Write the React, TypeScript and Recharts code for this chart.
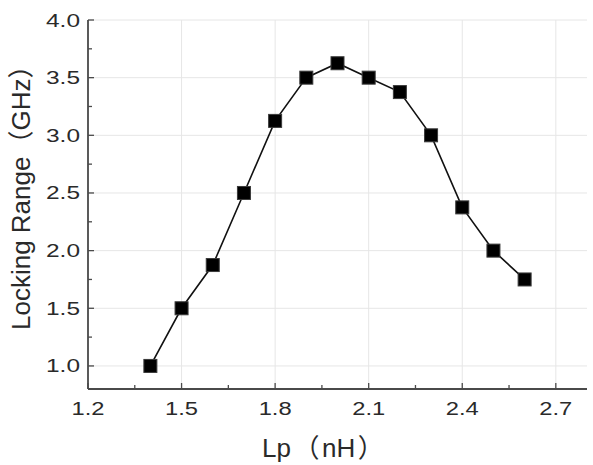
import React from 'react';
import { LineChart, Line, XAxis, YAxis, CartesianGrid } from 'recharts';

// ---- data ----
const lpNH = [1.4, 1.5, 1.6, 1.7, 1.8, 1.9, 2.0, 2.1, 2.2, 2.3, 2.4, 2.5, 2.6];
const lockingRangeGHz = [1.0, 1.5, 1.875, 2.5, 3.125, 3.5, 3.625, 3.5, 3.375, 3.0, 2.375, 2.0, 1.75];

const xMajorTicks = [1.2, 1.5, 1.8, 2.1, 2.4, 2.7];
const xMinorTicks = [1.35, 1.65, 1.95, 2.25, 2.55];
const yMajorTicks = [1.0, 1.5, 2.0, 2.5, 3.0, 3.5, 4.0];
const yMinorTicks = [1.25, 1.75, 2.25, 2.75, 3.25, 3.75];
const xDomain = [1.2, 2.8];
const yDomain = [0.8, 4.0];

const xTitleParts = ['Lp', '（', 'nH', '）'];
const yTitleParts = ['Locking Range', '（', 'GHz', '）'];

const data = lpNH.map((lp, i) => ({ lp, range: lockingRangeGHz[i] }));
const xTicksAll = [...xMajorTicks, ...xMinorTicks].sort((a, b) => a - b);
const yTicksAll = [...yMajorTicks, ...yMinorTicks].sort((a, b) => a - b);

const FONT = '"Liberation Sans", Arial, sans-serif';
const CJK = '"Noto Sans CJK SC", "Noto Sans CJK JP", sans-serif';
const FRAME = '#4a4a4a';
const TEXT = '#2a2a2a';
const GRID = '#e6e6e6';

const isMajor = (v: number, list: number[]) => list.some((m) => Math.abs(m - v) < 1e-6);
const isParen = (s: string) => s === '（' || s === '）';

const BottomTick = (p: any) => {
  const { x, y, payload } = p;
  const major = isMajor(payload.value, xMajorTicks);
  return (
    <g>
      <line x1={x} x2={x} y1={y} y2={y - (major ? 6 : 4)} stroke={FRAME} strokeWidth={1.3} />
      {major && (
        <text
          x={x}
          y={y + 26}
          textAnchor="middle"
          fontSize={18}
          fill={TEXT}
          fontFamily={FONT}
          textLength={33}
          lengthAdjust="spacingAndGlyphs"
        >
          {Number(payload.value).toFixed(1)}
        </text>
      )}
    </g>
  );
};

const TopTick = (p: any) => {
  const { x, y, payload } = p;
  const major = isMajor(payload.value, xMajorTicks);
  return <line x1={x} x2={x} y1={y} y2={y + (major ? 6 : 4)} stroke={FRAME} strokeWidth={1.3} />;
};

const LeftTick = (p: any) => {
  const { x, y, payload } = p;
  const major = isMajor(payload.value, yMajorTicks);
  return (
    <g>
      <line x1={x} x2={x + (major ? 6 : 4)} y1={y} y2={y} stroke={FRAME} strokeWidth={1.3} />
      {major && (
        <text
          x={x - 8}
          y={y + 6.5}
          textAnchor="end"
          fontSize={18}
          fill={TEXT}
          fontFamily={FONT}
          textLength={34}
          lengthAdjust="spacingAndGlyphs"
        >
          {Number(payload.value).toFixed(1)}
        </text>
      )}
    </g>
  );
};

const RightTick = (p: any) => {
  const { x, y, payload } = p;
  const major = isMajor(payload.value, yMajorTicks);
  return <line x1={x} x2={x - (major ? 6 : 4)} y1={y} y2={y} stroke={FRAME} strokeWidth={1.3} />;
};

const renderParts = (parts: string[], gap: number) =>
  parts.map((s, i) => (
    <tspan key={i} dx={i === 0 ? 0 : gap} fontFamily={isParen(s) ? CJK : FONT}>
      {s}
    </tspan>
  ));

const XTitle = (props: any) => {
  const vb = props.viewBox || { x: 88, y: 389, width: 499, height: 76 };
  const sx = vb.x + 174;
  const by = vb.y + 68;
  return (
    <text x={sx} y={by} textAnchor="start" fontSize={26} fill={TEXT} fontFamily={FONT}>
      {renderParts(xTitleParts, 2.5)}
    </text>
  );
};

const YTitle = (props: any) => {
  const vb = props.viewBox || { x: 0, y: 20, width: 88, height: 369 };
  const sy = vb.y + 310;
  const bx = vb.x + 30;
  return (
    <text
      x={0}
      y={0}
      transform={`translate(${bx},${sy}) rotate(-90)`}
      textAnchor="start"
      fontSize={26}
      fill={TEXT}
      fontFamily={FONT}
    >
      {renderParts(yTitleParts, 0)}
    </text>
  );
};

const SquareDot = (p: any) => {
  const { cx, cy, index } = p;
  if (cx == null || cy == null) return <g key={`d${index}`} />;
  return (
    <rect key={`d${index}`} x={cx - 6.5} y={cy - 6.5} width={13} height={13} fill="#000" stroke="#3a3a3a" strokeWidth={1} />
  );
};

export default function App() {
  return (
    <div style={{ position: 'absolute', left: 0, top: 0, width: 593, height: 465, background: '#fff' }}>
      <LineChart width={593} height={465} data={data} margin={{ top: 20, right: 6, left: 0, bottom: 0 }}>
        <CartesianGrid
          stroke={GRID}
          strokeWidth={1}
          horizontalValues={yMajorTicks}
          verticalValues={xMajorTicks}
        />
        <XAxis
          dataKey="lp"
          type="number"
          domain={xDomain}
          ticks={xTicksAll}
          interval={0}
          allowDataOverflow
          height={76}
          tickSize={0}
          tickMargin={0}
          tickLine={false}
          tick={<BottomTick />}
          axisLine={{ stroke: FRAME, strokeWidth: 1.8 }}
          label={{ content: (pr: any) => <XTitle {...pr} /> }}
        />
        <XAxis
          xAxisId="top"
          orientation="top"
          dataKey="lp"
          type="number"
          domain={xDomain}
          ticks={xTicksAll}
          interval={0}
          allowDataOverflow
          height={0}
          tickSize={0}
          tickMargin={0}
          tickLine={false}
          tick={<TopTick />}
          axisLine={{ stroke: FRAME, strokeWidth: 1.8 }}
        />
        <YAxis
          type="number"
          domain={yDomain}
          ticks={yTicksAll}
          interval={0}
          allowDataOverflow
          width={88}
          tickSize={0}
          tickMargin={0}
          tickLine={false}
          tick={<LeftTick />}
          axisLine={{ stroke: FRAME, strokeWidth: 1.8 }}
          label={{ content: (pr: any) => <YTitle {...pr} /> }}
        />
        <YAxis
          yAxisId="right"
          orientation="right"
          type="number"
          domain={yDomain}
          ticks={yTicksAll}
          interval={0}
          allowDataOverflow
          width={0}
          tickSize={0}
          tickMargin={0}
          tickLine={false}
          tick={<RightTick />}
          axisLine={{ stroke: FRAME, strokeWidth: 1.8 }}
        />
        <Line
          dataKey="range"
          stroke="#111"
          strokeWidth={1.6}
          isAnimationActive={false}
          dot={SquareDot}
          activeDot={false}
        />
      </LineChart>
    </div>
  );
}
